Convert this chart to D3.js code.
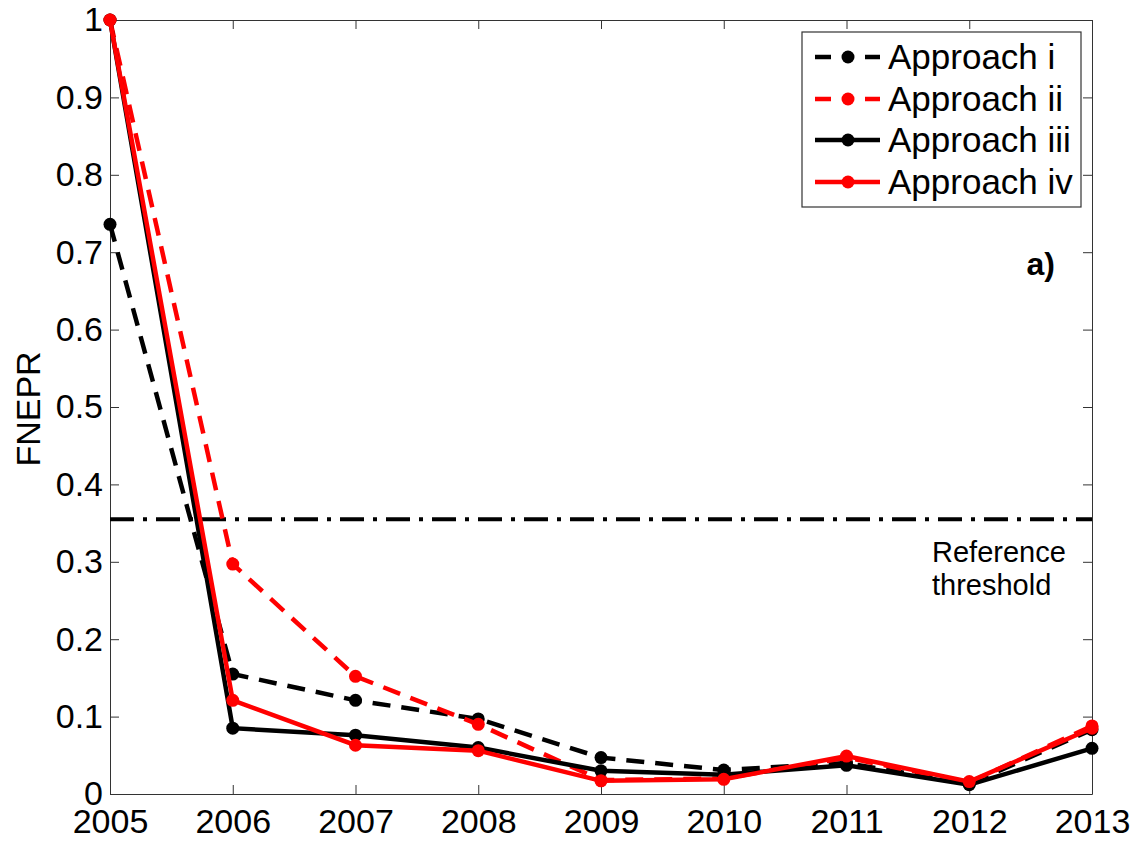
<!DOCTYPE html>
<html>
<head>
<meta charset="utf-8">
<style>
  body { margin: 0; background: #fff; }
  text { font-family: "Liberation Sans", Arial, sans-serif; }
</style>
</head>
<body>
<div id="chart"></div>
<script src="https://d3js.org/d3.v7.min.js"></script>
<script>
// data
var years = [2005, 2006, 2007, 2008, 2009, 2010, 2011, 2012, 2013];
var approachI   = [0.736, 0.155, 0.121, 0.097, 0.047, 0.031, 0.040, 0.013, 0.083];
var approachII  = [1.000, 0.297, 0.152, 0.090, 0.018, 0.020, 0.047, 0.015, 0.088];
var approachIII = [1.000, 0.085, 0.076, 0.060, 0.030, 0.025, 0.037, 0.012, 0.059];
var approachIV  = [1.000, 0.121, 0.063, 0.056, 0.017, 0.019, 0.049, 0.016, 0.085];
var seriesNames = ["Approach i", "Approach ii", "Approach iii", "Approach iv"];
var threshold = 0.355;
var yTicks = [0, 0.1, 0.2, 0.3, 0.4, 0.5, 0.6, 0.7, 0.8, 0.9, 1];

var width = 1136, height = 845;
var margin = {left: 110, right: 44, top: 20, bottom: 51};

var svg = d3.select("#chart").append("svg")
    .attr("width", width)
    .attr("height", height);

var x = d3.scaleLinear().domain([2005, 2013]).range([margin.left, width - margin.right]);
var y = d3.scaleLinear().domain([0, 1]).range([height - margin.bottom, margin.top]);

var series = [
  {name: seriesNames[0], values: approachI,   color: "#000", dash: "18,11"},
  {name: seriesNames[1], values: approachII,  color: "#f00", dash: "18,11"},
  {name: seriesNames[2], values: approachIII, color: "#000", dash: null},
  {name: seriesNames[3], values: approachIV,  color: "#f00", dash: null}
];

// axes (box with inward ticks)
var axisColor = "#333";
var fs = 34;
svg.append("g")
    .attr("transform", "translate(0," + y(0) + ")")
    .call(d3.axisBottom(x).tickValues(years).tickFormat(d3.format("d")).tickSizeInner(-9).tickSizeOuter(0).tickPadding(8))
    .call(function(g) {
      g.select(".domain").attr("stroke", axisColor);
      g.selectAll(".tick line").attr("stroke", axisColor);
      g.selectAll("text").attr("font-size", fs).attr("fill", "#000").attr("dy", "0.71em").attr("y", 15);
    });
svg.append("g")
    .attr("transform", "translate(0," + y(1) + ")")
    .call(d3.axisTop(x).tickValues(years).tickFormat("").tickSizeInner(-9).tickSizeOuter(0))
    .call(function(g) {
      g.select(".domain").attr("stroke", axisColor);
      g.selectAll(".tick line").attr("stroke", axisColor);
    });
svg.append("g")
    .attr("transform", "translate(" + x(2005) + ",0)")
    .call(d3.axisLeft(y).tickValues(yTicks).tickFormat(d3.format("~g")).tickSizeInner(-9).tickSizeOuter(0).tickPadding(8))
    .call(function(g) {
      g.select(".domain").attr("stroke", axisColor);
      g.selectAll(".tick line").attr("stroke", axisColor);
      g.selectAll("text").attr("font-size", fs).attr("fill", "#000").attr("x", -7);
    });
svg.append("g")
    .attr("transform", "translate(" + x(2013) + ",0)")
    .call(d3.axisRight(y).tickValues(yTicks).tickFormat("").tickSizeInner(-9).tickSizeOuter(0))
    .call(function(g) {
      g.select(".domain").attr("stroke", axisColor);
      g.selectAll(".tick line").attr("stroke", axisColor);
    });

// y label
svg.append("text")
    .attr("transform", "translate(40," + (y(0.5) + 2) + ") rotate(-90)")
    .attr("text-anchor", "middle")
    .attr("font-size", fs)
    .text("FNEPR");

// reference threshold
svg.append("line")
    .attr("x1", x(2005)).attr("x2", x(2013))
    .attr("y1", y(threshold)).attr("y2", y(threshold))
    .attr("stroke", "#000").attr("stroke-width", 4)
    .attr("stroke-dasharray", "24,9,4,9");
svg.append("text")
    .attr("x", 932).attr("y", y(threshold) + 43)
    .attr("font-size", 29)
    .text("Reference");
svg.append("text")
    .attr("x", 932).attr("y", y(threshold) + 76)
    .attr("font-size", 29)
    .text("threshold");

// series
var line = d3.line()
    .x(function(d, i) { return x(years[i]); })
    .y(function(d) { return y(d); });

series.forEach(function(s) {
  svg.append("path")
      .datum(s.values)
      .attr("fill", "none")
      .attr("stroke", s.color)
      .attr("stroke-width", 4.5)
      .attr("stroke-dasharray", s.dash)
      .attr("d", line);
  svg.selectAll(null)
      .data(s.values)
      .enter().append("circle")
      .attr("cx", function(d, i) { return x(years[i]); })
      .attr("cy", function(d) { return y(d); })
      .attr("r", 6.5)
      .attr("fill", s.color);
});

// panel label
svg.append("text")
    .attr("x", 1055).attr("y", 275)
    .attr("text-anchor", "end")
    .attr("font-size", 32)
    .attr("font-weight", "bold")
    .text("a)");

// legend
var legend = svg.append("g");
legend.append("rect")
    .attr("x", 802).attr("y", 32).attr("width", 279).attr("height", 175)
    .attr("fill", "#fff").attr("stroke", axisColor).attr("stroke-width", 1.2);
var rows = [57, 99, 140, 182];
series.forEach(function(s, i) {
  var g = legend.append("g").attr("transform", "translate(0," + rows[i] + ")");
  if (s.dash) {
    g.append("line").attr("x1", 815).attr("x2", 831).attr("y1", 0).attr("y2", 0)
      .attr("stroke", s.color).attr("stroke-width", 4.5);
    g.append("line").attr("x1", 865).attr("x2", 880).attr("y1", 0).attr("y2", 0)
      .attr("stroke", s.color).attr("stroke-width", 4.5);
  } else {
    g.append("line").attr("x1", 815).attr("x2", 880).attr("y1", 0).attr("y2", 0)
      .attr("stroke", s.color).attr("stroke-width", 4.5);
  }
  g.append("circle").attr("cx", 848).attr("cy", 0).attr("r", 6.5).attr("fill", s.color);
  g.append("text").attr("x", 888).attr("y", 12)
    .attr("font-size", 35).text(s.name);
});
</script>
</body>
</html>
